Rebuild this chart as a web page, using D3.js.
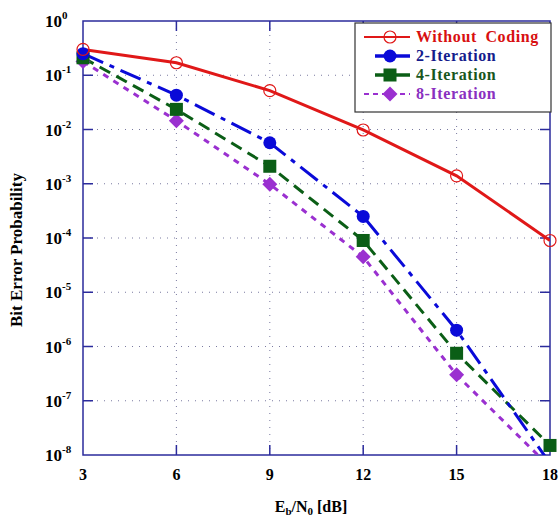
<!DOCTYPE html>
<html><head><meta charset="utf-8">
<script src="https://cdn.jsdelivr.net/npm/d3@7"></script>
<style>body{margin:0;background:#fff}svg{display:block}text{font-family:"Liberation Serif","Times New Roman",serif;font-weight:bold}</style>
</head><body>
<svg id="c" width="560" height="524"></svg>
<script>
const ebno = [3, 6, 9, 12, 15, 18];
const withoutCoding = [0.3, 0.17, 0.052, 0.0098, 0.0014, 0.00009];
const iter2 = [0.25, 0.043, 0.0057, 0.00025, 0.000002, 7e-9];
const iter4 = [0.21, 0.0235, 0.0021, 0.00009, 0.00000075, 1.5e-8];
const iter8 = [0.18, 0.0145, 0.00098, 0.000045, 0.0000003, 6e-9];
const xTicks = [3, 6, 9, 12, 15, 18];
const yExps = [0, -1, -2, -3, -4, -5, -6, -7, -8];
const seriesNames = ["Without Coding", "2-Iteration", "4-Iteration", "8-Iteration"];

const svg = d3.select("#c");
const L = 83, R = 550, T = 21, B = 455;
const x = d3.scaleLinear().domain([3, 18]).range([L, R]);
const y = d3.scaleLog().domain([1e-8, 1]).range([B, T]);
const axisCol = "#2b2b9c";

// grid
const g = svg.append("g");
g.selectAll("line.gy").data(yExps.slice(1, -1)).join("line")
  .attr("x1", L).attr("x2", R).attr("y1", d => y(Math.pow(10, d))).attr("y2", d => y(Math.pow(10, d)))
  .attr("stroke", "#7a7aa0").attr("stroke-width", 1).attr("stroke-dasharray", "1,6");
g.selectAll("line.gx").data(xTicks.slice(1, -1)).join("line")
  .attr("y1", T).attr("y2", B).attr("x1", d => x(d)).attr("x2", d => x(d))
  .attr("stroke", "#7a7aa0").attr("stroke-width", 1).attr("stroke-dasharray", "1,6");

// frame
svg.append("rect").attr("x", L).attr("y", T).attr("width", R - L).attr("height", B - T)
  .attr("fill", "none").attr("stroke", axisCol).attr("stroke-width", 1.5);

// ticks
const tk = svg.append("g").attr("stroke", axisCol).attr("stroke-width", 1.5);
xTicks.slice(1, -1).forEach(d => {
  tk.append("line").attr("x1", x(d)).attr("x2", x(d)).attr("y1", B).attr("y2", B - 10);
  tk.append("line").attr("x1", x(d)).attr("x2", x(d)).attr("y1", T).attr("y2", T + 10);
});
yExps.slice(1, -1).forEach(e => {
  const yy = y(Math.pow(10, e));
  tk.append("line").attr("x1", L).attr("x2", L + 10).attr("y1", yy).attr("y2", yy);
  tk.append("line").attr("x1", R).attr("x2", R - 10).attr("y1", yy).attr("y2", yy);
});

// tick labels
xTicks.forEach(d => {
  svg.append("text").attr("x", x(d)).attr("y", 480).attr("text-anchor", "middle")
    .attr("font-size", 16).attr("fill", "#000").text(d);
});
yExps.forEach(e => {
  const yy = y(Math.pow(10, e));
  svg.append("text").attr("x", 62).attr("y", yy + 6).attr("text-anchor", "end")
    .attr("font-size", 17).attr("fill", "#000").text("10");
  svg.append("text").attr("x", 62).attr("y", yy - 2).attr("font-size", 11).attr("fill", "#000")
    .text(e === 0 ? "0" : "-" + Math.abs(e));
});

// axis titles
svg.append("text").attr("transform", "translate(22,250) rotate(-90)").attr("text-anchor", "middle")
  .attr("font-size", 17).attr("fill", "#000").text("Bit Error Probability");
const xt = svg.append("text").attr("x", 311).attr("y", 512).attr("text-anchor", "middle")
  .attr("font-size", 16).attr("fill", "#000");
xt.append("tspan").text("E");
xt.append("tspan").attr("font-size", 11).attr("dy", 3).text("b");
xt.append("tspan").attr("dy", -3).text("/N");
xt.append("tspan").attr("font-size", 11).attr("dy", 3).text("0");
xt.append("tspan").attr("dy", -3).text(" [dB]");

// clip
svg.append("clipPath").attr("id", "clp").append("rect").attr("x", L).attr("y", T).attr("width", R - L).attr("height", B - T);

const series = [
  {name: seriesNames[0], vals: withoutCoding, color: "#e01818", text: "#d81010", dash: null, marker: "ocircle"},
  {name: seriesNames[1], vals: iter2, color: "#0a0ad8", text: "#141c8c", dash: "22,7,5,7", marker: "circle"},
  {name: seriesNames[2], vals: iter4, color: "#0b5e16", text: "#18561c", dash: "12,7", marker: "square"},
  {name: seriesNames[3], vals: iter8, color: "#9a30d0", text: "#8a30c0", dash: "6,6", marker: "diamond"}
];
const line = d3.line().x((d, i) => x(ebno[i])).y(d => y(d));

function drawMarker(sel, type, cx, cy, color) {
  if (type === "ocircle") sel.append("circle").attr("cx", cx).attr("cy", cy).attr("r", 6)
    .attr("fill", "none").attr("stroke", color).attr("stroke-width", 1.2);
  else if (type === "circle") sel.append("circle").attr("cx", cx).attr("cy", cy).attr("r", 6.5).attr("fill", color);
  else if (type === "square") sel.append("rect").attr("x", cx - 6.5).attr("y", cy - 6.5).attr("width", 13).attr("height", 13).attr("fill", color);
  else sel.append("path").attr("d", `M${cx},${cy - 7.5}L${cx + 7.5},${cy}L${cx},${cy + 7.5}L${cx - 7.5},${cy}Z`).attr("fill", color);
}

const plot = svg.append("g").attr("clip-path", "url(#clp)");
series.slice().reverse().forEach(s => {
  plot.append("path").datum(s.vals).attr("d", line).attr("fill", "none")
    .attr("stroke", s.color).attr("stroke-width", 3).attr("stroke-dasharray", s.dash);
});
const mk = svg.append("g");
series.slice().reverse().forEach(s => {
  s.vals.forEach((v, i) => {
    if (v >= 1e-8) drawMarker(mk, s.marker, x(ebno[i]), y(v), s.color);
  });
});

// legend
const lg = svg.append("g");
lg.append("rect").attr("x", 355).attr("y", 23).attr("width", 196).attr("height", 89)
  .attr("fill", "#fff").attr("stroke", "#333").attr("stroke-width", 1.2);
const rowY = [37, 56, 75, 94];
series.forEach((s, i) => {
  const yy = rowY[i];
  lg.append("line").attr("x1", (i === 1 || i === 2) ? 375 : 364).attr("x2", 410).attr("y1", yy).attr("y2", yy)
    .attr("stroke", s.color).attr("stroke-width", (i === 1 || i === 2) ? 3.5 : 2).attr("stroke-dasharray", i === 3 ? "5,4" : null);
  drawMarker(lg, s.marker, 390, yy, s.color);
  lg.append("text").attr("x", 416).attr("y", yy + 5).attr("font-size", 16)
    .attr("letter-spacing", 0.6).attr("word-spacing", 4).attr("fill", s.text).text(s.name);
});
</script>
</body></html>
